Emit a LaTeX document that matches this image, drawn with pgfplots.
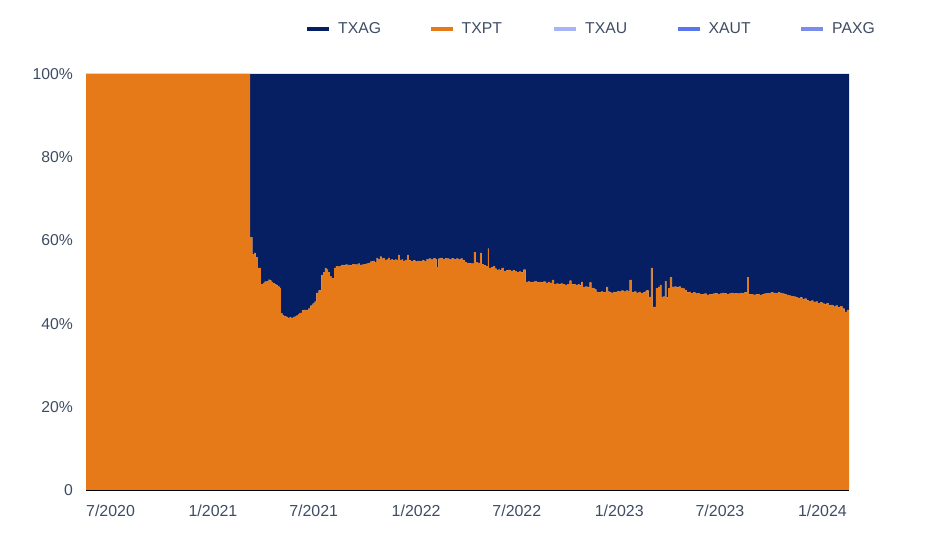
\documentclass[border=0pt]{standalone}
\usepackage{pgfplots}
\usepackage{pgfplotstable}
\pgfplotsset{compat=1.18}
\usepackage{fontspec}
\setmainfont{Liberation Sans}
\definecolor{navy}{HTML}{061F63}
\definecolor{orng}{HTML}{E67A18}
\definecolor{txau}{HTML}{A8B4F8}
\definecolor{xaut}{HTML}{5A76EE}
\definecolor{paxg}{HTML}{7A8DEB}
\definecolor{txt}{HTML}{3E4C63}

% day = days since 1 July 2020; txpt, txag = share in %
\pgfplotstableread{
day txpt txag
0 100 0
295 60.8 39.2
299 56.7 43.3
302 57.0 43.0
305 56.0 44.0
309 53.4 46.6
314 49.5 50.5
318 49.8 50.2
321 50.1 49.9
325 50.2 49.8
328 50.6 49.4
330 50.4 49.6
333 50.0 50.0
336 49.7 50.3
339 49.4 50.6
342 49.2 50.8
345 48.9 51.1
348 48.6 51.4
350 42.5 57.5
353 42.0 58.0
356 41.8 58.2
360 41.5 58.5
363 41.4 58.6
366 41.5 58.5
369 41.4 58.6
372 41.6 58.4
375 41.7 58.3
378 41.9 58.1
381 42.3 57.7
384 42.6 57.4
388 43.2 56.8
392 43.3 56.7
395 43.2 56.8
399 43.6 56.4
403 44.3 55.7
407 44.8 55.2
411 45.3 54.7
414 47.4 52.6
418 48.0 52.0
423 51.7 48.3
426 52.4 47.6
429 53.4 46.6
432 53.0 47.0
435 52.4 47.6
438 51.4 48.6
441 51.0 49.0
444 50.9 49.1
446 53.4 46.6
449 53.8 46.2
452 53.7 46.3
456 53.9 46.1
459 54.1 45.9
463 54.0 46.0
466 54.2 45.8
470 54.1 45.9
474 54.0 46.0
478 54.3 45.7
482 54.2 45.8
486 54.2 45.8
489 54.4 45.6
492 54.1 45.9
496 54.2 45.8
500 54.3 45.7
504 54.4 45.6
508 54.6 45.4
511 54.9 45.1
515 55.1 44.9
519 54.8 45.2
522 55.8 44.2
525 55.5 44.5
528 56.1 43.9
531 55.6 44.4
534 55.7 44.3
537 55.3 44.7
540 55.4 44.6
543 55.8 44.2
546 55.3 44.7
549 55.5 44.5
552 55.2 44.8
555 55.4 44.6
558 55.3 44.7
561 56.5 43.5
564 55.3 44.7
567 55.4 44.6
570 55.1 44.9
573 55.3 44.7
577 56.5 43.5
580 55.2 44.8
584 55.0 45.0
588 55.2 44.8
592 54.9 45.1
596 55.1 44.9
600 55.0 45.0
604 55.2 44.8
608 55.0 45.0
612 55.5 44.5
616 55.6 44.4
620 55.4 44.6
624 55.7 44.3
628 55.5 44.5
630 53.6 46.4
633 55.6 44.4
637 55.8 44.2
641 55.5 44.5
645 55.7 44.3
649 55.6 44.4
653 55.4 44.6
657 55.7 44.3
661 55.5 44.5
665 55.6 44.4
669 55.4 44.6
673 55.6 44.4
677 55.2 44.8
681 54.8 45.2
684 54.6 45.4
688 54.5 45.5
692 54.4 45.6
697 57.2 42.8
700 54.8 45.2
704 54.6 45.4
708 57.0 43.0
711 54.3 45.7
715 54.0 46.0
719 53.8 46.2
722 58.0 42.0
724 53.4 46.6
728 53.5 46.5
732 53.8 46.2
735 53.2 46.8
738 52.9 47.1
741 53.0 47.0
744 52.8 47.2
747 53.4 46.6
751 52.6 47.4
755 52.8 47.2
759 52.9 47.1
763 52.7 47.3
767 52.8 47.2
771 52.6 47.4
774 52.4 47.6
778 52.5 47.5
782 52.3 47.7
786 53.0 47.0
790 50.0 50.0
794 50.1 49.9
798 49.9 50.1
802 50.0 50.0
806 50.2 49.8
810 49.9 50.1
814 50.0 50.0
818 49.9 50.1
822 50.1 49.9
826 49.8 50.2
830 50.0 50.0
834 49.8 50.2
837 50.5 49.5
841 49.5 50.5
845 49.6 50.4
849 49.4 50.6
853 49.6 50.4
857 49.5 50.5
861 49.3 50.7
865 49.5 50.5
869 50.3 49.7
872 49.4 50.6
876 49.5 50.5
880 49.3 50.7
884 49.4 50.6
887 49.2 50.8
890 50.0 50.0
893 48.8 51.2
897 48.9 51.1
901 48.7 51.3
905 49.9 50.1
908 48.6 51.4
912 48.4 51.6
915 48.2 51.8
917 47.6 52.4
921 47.5 52.5
925 47.7 52.3
929 47.5 52.5
932 47.6 52.4
935 48.8 51.2
938 47.7 52.3
941 47.5 52.5
944 47.4 52.6
947 47.6 52.4
950 47.5 52.5
954 47.8 52.2
958 47.7 52.3
962 47.9 52.1
966 47.7 52.3
970 47.9 52.1
974 47.8 52.2
977 50.5 49.5
981 47.5 52.5
985 47.7 52.3
989 47.4 52.6
993 47.6 52.4
997 47.3 52.7
1001 47.5 52.5
1004 47.7 52.3
1007 48.0 52.0
1011 46.4 53.6
1015 53.4 46.6
1018 44.0 56.0
1024 48.5 51.5
1028 48.8 51.2
1031 49.3 50.7
1034 46.4 53.6
1037 46.5 53.5
1040 50.2 49.8
1043 46.3 53.7
1046 48.5 51.5
1049 51.2 48.8
1053 48.8 51.2
1057 48.9 51.1
1061 48.7 51.3
1065 48.9 51.1
1069 48.6 51.4
1073 48.4 51.6
1076 48.1 51.9
1079 47.5 52.5
1083 47.6 52.4
1087 47.3 52.7
1091 47.5 52.5
1095 47.2 52.8
1099 47.3 52.7
1103 47.1 52.9
1107 47.0 53.0
1111 47.2 52.8
1115 46.9 53.1
1119 47.1 52.9
1123 47.0 53.0
1127 47.2 52.8
1131 47.3 52.7
1135 47.1 52.9
1139 47.2 52.8
1143 47.4 52.6
1147 47.3 52.7
1151 47.1 52.9
1155 47.2 52.8
1159 47.4 52.6
1163 47.2 52.8
1167 47.3 52.7
1171 47.2 52.8
1175 47.4 52.6
1179 47.3 52.7
1183 47.5 52.5
1188 51.2 48.8
1191 47.0 53.0
1195 47.1 52.9
1199 46.9 53.1
1203 47.0 53.0
1207 47.1 52.9
1211 46.9 53.1
1215 47.0 53.0
1219 47.2 52.8
1223 47.3 52.7
1227 47.4 52.6
1231 47.5 52.5
1235 47.4 52.6
1239 47.3 52.7
1243 47.5 52.5
1247 47.4 52.6
1251 47.2 52.8
1255 47.0 53.0
1259 46.9 53.1
1263 46.7 53.3
1267 46.6 53.4
1271 46.5 53.5
1275 46.3 53.7
1279 46.2 53.8
1283 46.3 53.7
1287 45.9 54.1
1291 46.0 54.0
1295 45.6 54.4
1299 45.4 54.6
1303 45.5 54.5
1307 45.2 54.8
1311 45.3 54.7
1315 44.9 55.1
1319 45.1 54.9
1323 44.8 55.2
1327 44.6 55.4
1331 44.9 55.1
1335 44.4 55.6
1339 44.5 55.5
1343 44.1 55.9
1347 44.3 55.7
1351 43.9 56.1
1355 44.2 55.8
1359 43.6 56.4
1363 42.8 57.2
1367 43.3 56.7
1371 43.3 56.7
}\datatable

\begin{document}
\fontsize{15.8}{18}\selectfont
\begin{tikzpicture}
\path[use as bounding box] (0,0) rectangle (945bp,555bp);
\begin{axis}[
  at={(86bp,65bp)}, anchor=south west,
  width=763bp, height=416bp, scale only axis,
  xmin=0, xmax=1371, ymin=0, ymax=100,
  axis x line*=bottom, axis y line*=left,
  x axis line style={draw=black, line width=2bp, -},
  y axis line style={draw=none},
  major tick length=0pt,
  tick style={draw=none},
  xtick={0,184,365,549,730,914,1095,1279},
  xticklabels={7/2020,1/2021,7/2021,1/2022,7/2022,1/2023,7/2023,1/2024},
  ytick={0,20,40,60,80,100},
  yticklabels={0,20\%,40\%,60\%,80\%,100\%},
  x tick label style={anchor=north west, inner sep=0pt, text=txt, font=\fontsize{16}{18}\selectfont},
  y tick label style={anchor=east, inner sep=0pt, text=txt, font=\fontsize{15.8}{18}\selectfont},
  xticklabel shift=15bp,
  yticklabel shift=13bp,
  stack plots=y,
  legend columns=5,
  legend image code/.code={\draw[#1, line width=3.5bp] (0bp,0bp) -- (22bp,0bp);},
  legend style={at={(0.288,1.108)}, anchor=west, draw=none, fill=none,
    inner sep=0pt, outer sep=0pt, text=txt,
    font=\fontsize{15.8}{18}\selectfont,
    nodes={inner sep=0pt, text width=48bp, align=left},
    /tikz/every odd column/.append style={column sep=7bp},
    /tikz/every even column/.append style={column sep=43bp}},
]
\addplot[const plot, fill=orng, draw=none, forget plot] table[x=day, y=txpt] {\datatable} \closedcycle;
\addplot[const plot, fill=navy, draw=none, forget plot] table[x=day, y=txag] {\datatable} \closedcycle;
\addlegendimage{navy}
\addlegendentry{TXAG}
\addlegendimage{orng}
\addlegendentry{TXPT}
\addlegendimage{txau}
\addlegendentry{TXAU}
\addlegendimage{xaut}
\addlegendentry{XAUT}
\addlegendimage{paxg}
\addlegendentry{PAXG}
\end{axis}
\end{tikzpicture}
\end{document}
